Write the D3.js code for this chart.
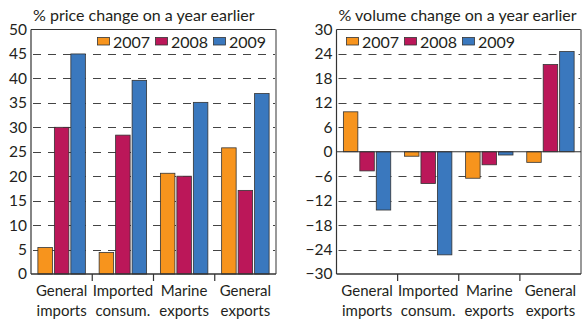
<!DOCTYPE html>
<html>
<head>
<meta charset="utf-8">
<script src="https://cdn.jsdelivr.net/npm/d3@7"></script>
<style>
body { margin: 0; background: #fff; }
svg { display: block; font-family: Lato, "Open Sans", sans-serif; }
</style>
</head>
<body>
<svg id="chart" width="583" height="322"></svg>
<script>
const years = ['2007', '2008', '2009'];
const categories = ['General imports', 'Imported consum.', 'Marine exports', 'General exports'];

const price2007 = [5.4, 4.4, 20.6, 25.8];
const price2008 = [30.0, 28.4, 20.0, 17.1];
const price2009 = [45.0, 39.6, 35.1, 36.9];

const volume2007 = [9.8, -1.1, -6.5, -2.6];
const volume2008 = [-4.7, -7.8, -3.2, 21.4];
const volume2009 = [-14.3, -25.3, -0.8, 24.6];

const priceTicks = [0, 5, 10, 15, 20, 25, 30, 35, 40, 45, 50];
const volumeTicks = [-30, -24, -18, -12, -6, 0, 6, 12, 18, 24, 30];

const colors = ['#f7941d', '#bb1759', '#3a78be'];

const plotTop = 29.5;
const plotBottom = 274;

const svg = d3.select('#chart');

function drawPanel (cfg) {
    const g = svg.append('g');

    const x0 = d3.scaleBand()
        .domain(categories)
        .range([cfg.left, cfg.right])
        .paddingInner(0.225)
        .paddingOuter(0.1125);

    const x1 = d3.scaleBand()
        .domain(years)
        .range([0, x0.bandwidth()])
        .paddingInner(0.12);

    const y = d3.scaleLinear()
        .domain([cfg.ticks[0], cfg.ticks[cfg.ticks.length - 1]])
        .range([plotBottom, plotTop]);

    // GRID
    const inner = cfg.ticks.slice(1, -1).filter((t) => t !== 0);
    g.append('g')
        .selectAll('line')
        .data(inner)
        .enter()
        .append('line')
        .attr('x1', cfg.left + 2)
        .attr('x2', cfg.right)
        .attr('y1', (d) => Math.round(y(d)) + 0.5)
        .attr('y2', (d) => Math.round(y(d)) + 0.5)
        .attr('stroke', '#444')
        .attr('stroke-width', 1.2)
        .attr('stroke-dasharray', '8,7');

    // BARS
    const rows = categories.map((c, i) => ({
        cat: c,
        values: cfg.series.map((s, j) => ({ year: years[j], value: s[i], color: colors[j] }))
    }));

    g.append('g')
        .selectAll('g')
        .data(rows)
        .enter()
        .append('g')
        .attr('transform', (d) => `translate(${x0(d.cat)} 0)`)
        .selectAll('rect')
        .data((d) => d.values)
        .enter()
        .append('rect')
        .attr('x', (d) => x1(d.year))
        .attr('width', x1.bandwidth())
        .attr('y', (d) => y(Math.max(0, d.value)))
        .attr('height', (d) => Math.abs(y(d.value) - y(0)))
        .attr('fill', (d) => d.color)
        .attr('stroke', '#333')
        .attr('stroke-width', 0.8);

    // FRAME
    g.append('line')
        .attr('x1', cfg.left).attr('x2', cfg.right)
        .attr('y1', plotTop).attr('y2', plotTop)
        .attr('stroke', '#333').attr('stroke-width', 1);
    g.append('line')
        .attr('x1', cfg.right).attr('x2', cfg.right)
        .attr('y1', plotTop).attr('y2', plotBottom)
        .attr('stroke', '#999').attr('stroke-width', 2);
    g.append('line')
        .attr('x1', cfg.left).attr('x2', cfg.left)
        .attr('y1', plotTop).attr('y2', plotBottom)
        .attr('stroke', '#333').attr('stroke-width', 1.2);
    g.append('line')
        .attr('x1', cfg.left).attr('x2', cfg.right)
        .attr('y1', plotBottom).attr('y2', plotBottom)
        .attr('stroke', '#333').attr('stroke-width', 1.4);
    if (cfg.ticks[0] < 0) {
        g.append('line')
            .attr('x1', cfg.left).attr('x2', cfg.right)
            .attr('y1', y(0)).attr('y2', y(0))
            .attr('stroke', '#333').attr('stroke-width', 1.2);
    }

    // Y LABELS
    const yAxis = g.append('g')
        .attr('transform', `translate(${cfg.left} 0)`)
        .call(d3.axisLeft(y).tickValues(cfg.ticks).tickSize(0).tickPadding(4));
    yAxis.select('.domain').remove();
    yAxis.selectAll('text')
        .attr('font-family', 'Lato, "Open Sans", sans-serif')
        .attr('font-size', 15.5)
        .attr('fill', '#231f20');

    // CATEGORY TICKS
    const gap = x0.step() * x0.paddingInner() / 2;
    g.append('g')
        .selectAll('line')
        .data(categories.slice(1))
        .enter()
        .append('line')
        .attr('x1', (d) => x0(d) - gap)
        .attr('x2', (d) => x0(d) - gap)
        .attr('y1', plotBottom)
        .attr('y2', plotBottom + 7)
        .attr('stroke', '#333')
        .attr('stroke-width', 1.2);

    // CATEGORY LABELS
    const labels = g.append('g')
        .selectAll('text')
        .data(categories)
        .enter()
        .append('text')
        .attr('text-anchor', 'middle')
        .attr('font-size', 15)
        .attr('fill', '#231f20');
    labels.selectAll('tspan')
        .data((d) => d.split(' ').map((w) => ({ w, c: d })))
        .enter()
        .append('tspan')
        .attr('x', (d) => x0(d.c) + x0.bandwidth() / 2)
        .attr('y', (d, i) => 296 + i * 20)
        .text((d) => d.w);

    // LEGEND
    const legend = g.append('g')
        .selectAll('g')
        .data(years)
        .enter()
        .append('g')
        .attr('transform', (d, i) => `translate(${cfg.legendX + i * 58} 0)`);
    legend.append('rect')
        .attr('x', 0.5)
        .attr('y', 37.5)
        .attr('width', 12)
        .attr('height', 7.5)
        .attr('fill', (d, i) => colors[i])
        .attr('stroke', '#333')
        .attr('stroke-width', 0.8);
    legend.append('text')
        .attr('x', 16)
        .attr('y', 47.5)
        .attr('font-size', 16)
        .attr('fill', '#231f20')
        .text((d) => d);

    // TITLE
    g.append('text')
        .attr('x', cfg.left + 2)
        .attr('y', 21)
        .attr('font-size', 16)
        .attr('fill', '#231f20')
        .text(cfg.title);
}

drawPanel({
    left: 31,
    right: 276,
    ticks: priceTicks,
    series: [price2007, price2008, price2009],
    legendX: 97,
    title: '% price change on a year earlier'
});

drawPanel({
    left: 336.5,
    right: 581,
    ticks: volumeTicks,
    series: [volume2007, volume2008, volume2009],
    legendX: 346,
    title: '% volume change on a year earlier'
});
</script>
</body>
</html>
